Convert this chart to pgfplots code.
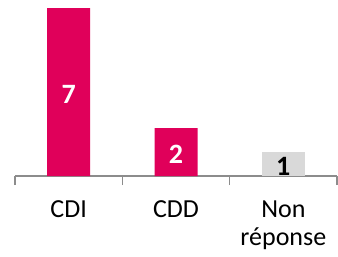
\documentclass[border=0pt]{standalone}
\usepackage{pgfplots}
\pgfplotsset{compat=1.18}
\usepackage{fontspec}
\setmainfont{Carlito}
\definecolor{barpink}{HTML}{E0005A}
\definecolor{bargrey}{HTML}{D9D9D9}
\definecolor{axgrey}{HTML}{8C8C8C}
\begin{document}
\begin{tikzpicture}
\begin{axis}[
  scale only axis,
  width=322pt, height=168pt,
  xmin=-0.5, xmax=2.5, ymin=0, ymax=7,
  axis y line=none,
  axis x line*=bottom,
  axis line style={axgrey, line width=1.2pt},
  xtick={0,1,2},
  xticklabels={CDI,CDD,{Non\\réponse}},
  major tick length=0pt,
  minor xtick={-0.5,0.5,1.5,2.5},
  minor tick length=9pt,
  tick align=outside,
  minor tick style={axgrey, line width=1.2pt},
  xticklabel style={font=\fontsize{26}{28}\selectfont, align=center, anchor=north, yshift=-21pt},
  clip=false,
  ybar, bar width=43pt, bar shift=0pt,
  /pgf/number format/assume math mode=true,
  visualization depends on={rawy \as \rawy},
  nodes near coords,
  every node near coord/.append style={anchor=center, yshift=-12pt*\rawy-2pt, font=\fontsize{28}{28}\selectfont\bfseries},
]
\addplot[draw=none, fill=barpink, nodes near coords style={text=white}] coordinates {(0,7) (1,2)};
\addplot[draw=none, fill=bargrey, nodes near coords style={text=black}] coordinates {(2,1)};
\path (rel axis cs:0,0) ++(-15pt,-80pt) (rel axis cs:1,1) ++(1pt,8pt);
\end{axis}
\end{tikzpicture}
\end{document}
